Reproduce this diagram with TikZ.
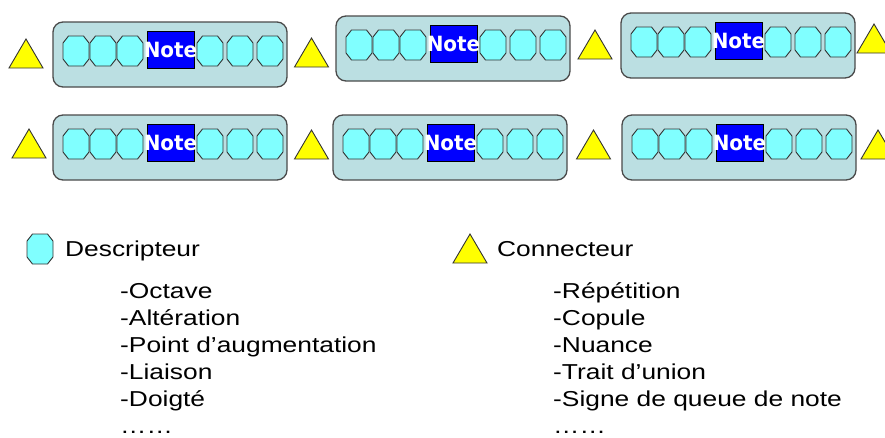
\documentclass[tikz,border=0pt]{standalone}
\usepackage{fontspec}
\setmainfont{Liberation Sans}
\newfontfamily\legendfont[FakeStretch=1.22]{Liberation Sans}
\newfontfamily\notefont[FakeStretch=0.95]{DejaVu Sans}
\definecolor{boxfill}{HTML}{BBDFE2}
\definecolor{boxline}{HTML}{4A4A4A}
\definecolor{octfill}{HTML}{80FFFF}
\definecolor{octline}{HTML}{333333}
\definecolor{noteblue}{HTML}{0000FF}
\definecolor{triyellow}{HTML}{FFFF00}
\tikzset{
  boxstyle/.style={draw=boxline, fill=boxfill, line width=1.3pt, rounded corners=10pt},
  octstyle/.style={draw=octline, fill=octfill, line width=0.9pt},
  notestyle/.style={draw=black, fill=noteblue, line width=0.8pt},
  tristyle/.style={draw=octline, fill=triyellow, line width=0.9pt, line join=miter},
  notetext/.style={text=white, inner sep=0pt, font=\notefont\bfseries\fontsize{21}{21}\selectfont},
  legendtitle/.style={anchor=base west, inner sep=0pt, font=\legendfont\fontsize{21.6}{26}\selectfont},
  legenditem/.style={anchor=base west, inner sep=0pt, font=\legendfont\fontsize{21.6}{26}\selectfont},
  octo/.pic={\draw[octstyle] (-13,-8) -- (-13,8) -- (-7.5,15) -- (7.5,15) -- (13,8) -- (13,-8) -- (7.5,-15) -- (-7.5,-15) -- cycle;},
  tri/.pic={\draw[tristyle] (-17,0) -- (17,0) -- (0,-29) -- cycle;},
  measure/.pic={
    \draw[boxstyle] (0,0) rectangle (234,65);
    \foreach \cx in {23,50,77,157,187,217} {\pic at (\cx,29) {octo};}
    \draw[notestyle] (94,9) rectangle (141,46);
    \node[notetext] (-note) at (117.5,28) {Note};
  }
}
\begin{document}
\begin{tikzpicture}[x=1pt,y=-1pt]
\useasboundingbox (0,0) rectangle (885,437);
% row 1
\pic (m11) at (53,22) {measure};
\pic (m12) at (336,16) {measure};
\pic (m13) at (621,13) {measure};
\pic at (26,68) {tri};
\pic at (311.5,67) {tri};
\pic at (595,59) {tri};
\pic at (874,53) {tri};
% row 2
\pic (m21) at (53,115) {measure};
\pic (m22) at (333,115) {measure};
\pic (m23) at (622,115) {measure};
\pic at (29,158) {tri};
\pic at (311.5,159) {tri};
\pic at (593.5,159) {tri};
\pic at (878,159) {tri};
% legend
\pic at (40,249) {octo};
\node[legendtitle] (desc) at (65,256) {Descripteur};
\pic at (470,263) {tri};
\node[legendtitle] (conn) at (497,256) {Connecteur};
\foreach \t [count=\i] in {-Octave,-Altération,-Point d’augmentation,-Liaison,-Doigté,……} {
  \node[legenditem] (d\i) at (120,{298+27*(\i-1)}) {\t};
}
\foreach \t [count=\i] in {-Répétition,-Copule,-Nuance,-Trait d’union,-Signe de queue de note,……} {
  \node[legenditem] (c\i) at (553,{298+27*(\i-1)}) {\t};
}
\end{tikzpicture}
\end{document}
